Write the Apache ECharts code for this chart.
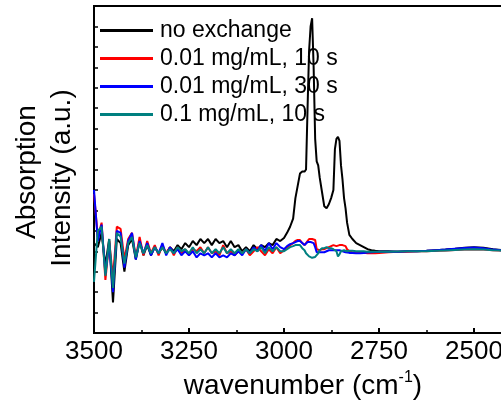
<!DOCTYPE html>
<html>
<head>
<meta charset="utf-8">
<script src="https://cdn.jsdelivr.net/npm/echarts@6/dist/echarts.min.js"></script>
<style>html,body{margin:0;padding:0;background:#fff;}#chart{width:501px;height:411px;}</style>
</head>
<body>
<div id="chart"></div>
<script>
// Wavenumbers (cm^-1)
const wavenumbers = [
  3500,3490,3480,3470,3460,3450,3440,3430,3420,3410,
  3400,3390,3380,3370,3360,3350,3340,3330,3320,3310,
  3300,3290,3280,3270,3260,3250,3240,3230,3220,3210,
  3200,3190,3180,3170,3160,3150,3140,3130,3120,3110,
  3100,3090,3080,3070,3060,3050,3040,3030,3020,3010,
  3000,2992,2984,2976,2970,2964,2958,2952,2946,2942,
  2938,2934,2930,2926,2922,2918,2914,2910,2906,2900,
  2894,2888,2882,2876,2870,2866,2862,2858,2854,2850,
  2846,2842,2838,2834,2828,2820,2810,2800,2790,2780,
  2770,2760,2750,2725,2700,2675,2650,2625,2600,2575,
  2550,2525,2500,2475,2450,2425,2400,2350,2300,2250
];
const seriesNames = ["no exchange", "0.01 mg/mL, 10 s", "0.01 mg/mL, 30 s", "0.1 mg/mL, 10 s"];
const noExchange = [
  4.4,4.2,4.9,3.3,4.6,1.5,4.6,4.4,3.0,4.3,
  4.6,3.6,4.5,3.8,4.3,3.8,4.2,3.9,4.2,3.9,
  4.2,4.0,4.3,4.1,4.4,4.2,4.5,4.3,4.6,4.4,
  4.6,4.3,4.6,4.4,4.5,4.2,4.5,4.2,4.3,4.0,
  4.2,4.0,4.3,4.1,4.3,4.2,4.4,4.3,4.6,4.5,
  4.65,4.9,5.2,5.6,6.6,7.2,7.8,7.9,7.9,8.0,
  11.0,13.8,15.0,15.4,13.0,9.5,8.4,8.2,7.6,6.9,
  6.2,6.1,6.3,6.6,7.0,9.0,9.5,9.6,9.4,8.2,
  7.5,6.6,6.1,5.4,4.8,4.6,4.4,4.3,4.2,4.1,
  4.05,4.02,4.0,4.0,3.98,4.0,4.0,4.02,4.05,4.08,
  4.12,4.17,4.2,4.17,4.1,4.05,4.04,4.03,4.02,4.02
];
const ex001_10s = [
  6.8,4.7,5.4,2.6,4.5,2.7,5.2,5.1,3.6,4.6,
  4.9,3.7,4.7,3.8,4.5,3.9,4.3,3.8,4.3,3.9,
  4.2,3.8,4.2,3.9,4.1,3.8,4.1,4.0,4.2,3.9,
  4.2,3.9,4.0,3.8,4.3,3.9,4.0,3.8,4.0,3.9,
  4.1,3.8,4.0,4.2,4.0,3.8,4.1,3.9,4.2,3.9,
  4.05,4.2,4.3,4.4,4.5,4.55,4.55,4.4,4.3,4.35,
  4.5,4.6,4.6,4.6,4.6,4.55,4.1,4.05,4.05,4.1,
  4.1,4.15,4.2,4.25,4.3,4.3,4.25,4.25,4.3,4.3,
  4.3,4.25,4.25,4.1,4.0,3.95,3.93,3.92,3.93,3.9,
  3.9,3.9,3.92,3.95,3.97,3.98,4.0,4.0,4.02,4.04,
  4.06,4.08,4.1,4.08,4.05,4.03,4.02,4.02,4.02,4.02
];
const ex001_30s = [
  7.0,4.5,5.3,2.9,4.4,2.0,5.0,4.9,3.2,4.5,
  4.9,3.6,4.5,3.9,4.4,3.8,4.2,3.9,4.4,3.8,
  4.2,3.9,4.1,3.8,4.0,3.8,4.0,3.7,3.9,3.8,
  3.9,3.7,3.9,3.7,3.8,3.7,3.9,3.8,4.0,3.8,
  4.1,3.9,4.2,4.0,4.3,4.0,4.4,4.1,4.4,4.2,
  4.1,4.25,4.35,4.4,4.45,4.5,4.5,4.4,4.3,4.35,
  4.45,4.45,4.45,4.45,4.4,4.2,3.95,3.95,3.95,3.95,
  3.95,4.0,4.05,4.05,4.05,4.1,4.05,4.05,4.05,4.0,
  4.0,3.95,3.95,3.95,3.92,3.92,3.9,3.9,3.92,3.94,
  3.95,3.96,3.97,3.98,3.98,4.0,4.0,4.02,4.05,4.08,
  4.12,4.16,4.18,4.15,4.08,4.05,4.04,4.03,4.03,4.03
];
const ex01_10s = [
  2.5,5.0,5.2,2.8,4.6,2.2,4.9,4.7,3.4,4.4,
  4.7,3.7,4.4,3.9,4.3,3.9,4.2,3.9,4.2,3.9,
  4.1,3.9,4.2,4.0,4.1,3.9,4.2,3.9,4.1,3.9,
  4.2,3.9,4.1,3.9,4.2,3.9,4.1,3.9,4.1,3.9,
  4.1,3.9,4.1,4.0,4.2,3.9,4.2,4.0,4.2,4.0,
  4.0,4.1,4.2,4.25,4.3,4.3,4.3,4.15,4.05,3.9,
  3.82,3.75,3.7,3.68,3.7,3.72,3.75,3.9,4.05,4.15,
  4.15,4.2,4.15,4.15,4.1,4.05,4.0,3.75,3.85,4.0,
  4.05,4.05,4.0,4.0,4.02,4.02,4.0,4.0,4.0,3.98,
  3.98,3.98,3.98,3.98,3.99,4.0,4.0,4.0,4.02,4.04,
  4.06,4.08,4.1,4.08,4.05,4.03,4.02,4.02,4.02,4.02
];
const xTicks = { min: 2250, max: 3500, step: 250 };
const colors = ["#000000", "#ff0000", "#0000ff", "#008080"];

const allValues = [noExchange, ex001_10s, ex001_30s, ex01_10s];
const FONT = "Arial, 'Liberation Sans', sans-serif";

const chart = echarts.init(document.getElementById('chart'), null, { renderer: 'canvas' });
chart.setOption({
  animation: false,
  backgroundColor: '#fff',
  grid: { left: 94, top: 6, width: 475, height: 327, show: true, borderColor: '#000', borderWidth: 2,
          containLabel: false, outerBoundsMode: 'none' },
  legend: {
    orient: 'vertical', left: 100, top: 19, padding: 0, itemWidth: 53, itemHeight: 3, itemGap: 5,
    icon: 'rect',
    textStyle: { fontFamily: FONT, fontSize: 23, color: '#000', padding: [0, 0, 0, 2] },
    data: seriesNames
  },
  xAxis: {
    type: 'value', inverse: true, min: xTicks.min, max: xTicks.max, interval: xTicks.step,
    axisLine: { lineStyle: { color: '#000', width: 2 } },
    axisTick: { inside: true, length: 5, lineStyle: { color: '#000', width: 2 } },
    minorTick: { show: true, splitNumber: 2, length: 3, lineStyle: { color: '#000', width: 1.5 } },
    axisLabel: { fontFamily: FONT, fontSize: 26, color: '#000', margin: 6, formatter: v => String(v) },
    splitLine: { show: false }
  },
  yAxis: {
    type: 'value', min: 0, max: 16, interval: 1,
    axisLine: { show: true, lineStyle: { color: '#000', width: 2 } },
    axisTick: { show: true, inside: true, length: 4, lineStyle: { color: '#000', width: 1.5 } },
    axisLabel: { show: false },
    splitLine: { show: false }
  },
  graphic: [
    { type: 'text', x: 27, y: 172, rotation: Math.PI / 2,
      style: { text: 'Absorption', font: '28px ' + FONT, fill: '#000', textAlign: 'center', textVerticalAlign: 'middle' } },
    { type: 'text', x: 62, y: 178, rotation: Math.PI / 2,
      style: { text: 'Intensity (a.u.)', font: '28px ' + FONT, fill: '#000', textAlign: 'center', textVerticalAlign: 'middle' } },
    { type: 'text', x: 303, y: 386,
      style: { text: 'wavenumber (cm{sup|-1})', font: '28px ' + FONT, fill: '#000', textAlign: 'center', textVerticalAlign: 'middle',
        rich: { sup: { fontSize: 16, fontFamily: FONT, verticalAlign: 'top', lineHeight: 32 } } } }
  ],
  series: seriesNames.map((name, k) => ({
    name: name, type: 'line', showSymbol: false, symbol: 'none',
    color: colors[k],
    lineStyle: { color: colors[k], width: 2 },
    data: wavenumbers.map((w, i) => [w, allValues[k][i]]),
    z: 2 + k
  }))
});
</script>
</body>
</html>
